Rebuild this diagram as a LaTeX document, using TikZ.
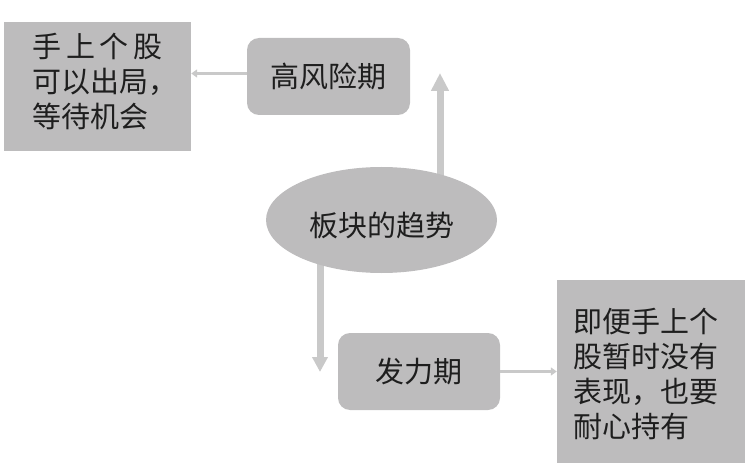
\documentclass[tikz,border=0pt]{standalone}
\usepackage{fontspec}
\setmainfont{Noto Sans CJK SC}
\usetikzlibrary{shapes.geometric,arrows.meta,backgrounds}
\definecolor{boxgray}{RGB}{189,188,189}
\definecolor{arrgray}{RGB}{201,201,201}
\definecolor{txt}{RGB}{30,30,30}
\begin{document}
\begin{tikzpicture}[x=1pt,y=-1pt,
  every node/.style={text=txt, font=\fontsize{29pt}{35pt}\selectfont, inner sep=0pt},
  sqbox/.style={fill=boxgray},
  rbox/.style={fill=boxgray, rounded corners=12pt, minimum width=163pt, minimum height=77pt},
  ellbox/.style={fill=boxgray, ellipse, minimum width=231pt, minimum height=106pt},
  thinarrow/.style={draw=arrgray, line width=3pt, -{Triangle[width=8pt,length=6pt]}},
  bigarrow/.style={draw=arrgray, line width=7pt, -{Triangle[width=17pt,length=18pt]}}
]
\useasboundingbox (0,0) rectangle (750,468);
\node[sqbox, minimum width=187pt, minimum height=129pt] (lb) at (97.5,86.5)
  {\raisebox{5pt}[\height][\depth]{\parbox{130pt}{\makebox[130pt][s]{手\hfill 上\hfill 个\hfill 股}\\可以出局，\\等待机会}}};
\node[rbox] (hf) at (328.5,76.5) {高风险期};
\node[ellbox] (ell) at (381.5,220) {\raisebox{-5pt}[\height][\depth]{板块的趋势}};
\node[rbox, minimum width=162pt] (fl) at (419,371.5) {发力期};
\node[sqbox, minimum width=188pt, minimum height=183pt] (rb) at (651,371.5)
  {\hspace*{-11pt}\raisebox{-2pt}[\height][\depth]{\parbox{145pt}{即便手上个\\股暂时没有\\表现，也要\\耐心持有}}};
\coordinate (uptip) at (440,73);
\coordinate (dntip) at (320,372);
\begin{scope}[on background layer]
\draw[bigarrow] (ell.center -| uptip) -- (uptip);
\draw[bigarrow, -{Triangle[width=15pt,length=15pt]}] (ell.center -| dntip) -- (dntip);
\end{scope}
\draw[thinarrow] ([yshift=3pt]hf.west) -- ([yshift=3pt]lb.east |- hf.west);
\draw[thinarrow] (fl.east) -- (rb.west |- fl.east);
\end{tikzpicture}
\end{document}
